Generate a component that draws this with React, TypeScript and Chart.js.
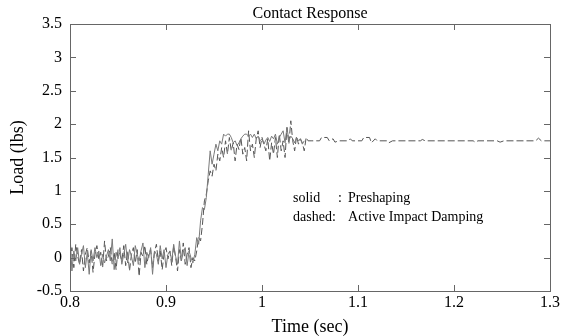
import React, { useEffect, useRef } from "react";
import { Chart, registerables } from "chart.js";

Chart.register(...registerables);

// ---- data ----
const sampleStart = 0.8;
const sampleStep = 0.002;

const solidValues = [
  0.35, -0.2, 0.1, -0.05, 0.15, -0.1, 0.05, 0.18, -0.15, 0.08,
  -0.25, 0.12, -0.05, 0.15, 0.0, 0.1, -0.12, 0.05, -0.08, 0.02,
  0.12, -0.05, 0.28, -0.18, 0.08, -0.02, 0.15, -0.1, 0.05, 0.2,
  -0.08, 0.12, 0.02, -0.12, 0.18, 0.05, -0.05, 0.1, 0.22, -0.15,
  0.08, 0.0, 0.15, -0.25, 0.1, 0.05, -0.1, 0.18, -0.02, 0.12,
  -0.15, 0.05, 0.1, -0.05, 0.2, 0.02, -0.1, 0.25, -0.05, 0.08,
  0.15, -0.12, 0.1, 0.0, -0.08,
  0.05, 0.3, 0.2, 0.55, 0.75, 0.72, 0.9, 1.25, 1.6, 1.4,
  1.55, 1.7, 1.6, 1.75, 1.7, 1.85, 1.82, 1.85, 1.85, 1.8,
  1.72, 1.75, 1.68, 1.72, 1.78, 1.82, 1.85, 1.85, 1.82, 1.85,
  1.8, 1.85, 1.78, 1.82, 1.75, 1.78, 1.7, 1.76, 1.8, 1.74,
  1.82, 1.78, 1.85, 1.7, 1.8, 1.85, 1.9, 1.72, 1.95, 1.75,
  1.82, 1.78, 1.72, 1.8, 1.75, 1.78, 1.7, 1.75,
];

const dashedValues = [
  -0.05, 0.15, -0.15, 0.2, 0.02, -0.1, 0.12, -0.2, 0.05, 0.15,
  -0.08, 0.1, -0.22, 0.05, 0.18, -0.02, 0.08, -0.15, 0.25, -0.05,
  0.02, 0.15, -0.1, 0.08, -0.18, 0.12, 0.05, -0.05, 0.18, -0.12,
  0.1, -0.2, 0.05, 0.15, -0.08, 0.12, -0.28, 0.08, 0.02, 0.18,
  -0.1, 0.05, 0.12, -0.15, 0.08, 0.2, -0.05, 0.1, -0.18, 0.05,
  0.15, -0.02, 0.1, -0.12, 0.18, 0.0, -0.2, 0.12, -0.05, 0.22,
  -0.1, 0.05, 0.15, -0.15, 0.0,
  -0.05, 0.1, 0.3, 0.25, 0.5, 0.85, 0.95, 1.15, 1.3, 1.22,
  1.4, 1.3, 1.55, 1.45, 1.65, 1.5, 1.75, 1.55, 1.8, 1.6,
  1.72, 1.45, 1.7, 1.62, 1.8, 1.55, 1.65, 1.45, 1.9, 1.6,
  1.7, 1.5, 1.78, 1.9, 1.65, 1.8, 1.7, 1.6, 1.78, 1.45,
  1.72, 1.55, 1.8, 1.5, 1.85, 1.6, 1.75, 1.5, 1.95, 1.7,
  2.05, 1.75, 1.6, 1.82, 1.7, 1.78, 1.72, 1.6, 1.8, 1.75,
  1.75,
];

const dashedTailTimes = [
  1.052, 1.06, 1.062, 1.068, 1.07, 1.074, 1.076, 1.08, 1.09, 1.092,
  1.094, 1.104, 1.106, 1.112, 1.114, 1.118, 1.12, 1.13, 1.132, 1.136,
  1.165, 1.167, 1.17, 1.22, 1.222, 1.225, 1.245, 1.248, 1.252, 1.285,
  1.288, 1.291, 1.3,
];
const dashedTailValues = [
  1.75, 1.75, 1.8, 1.8, 1.75, 1.78, 1.73, 1.75, 1.75, 1.78,
  1.75, 1.75, 1.8, 1.8, 1.72, 1.78, 1.75, 1.75, 1.72, 1.75,
  1.75, 1.77, 1.75, 1.75, 1.73, 1.75, 1.75, 1.73, 1.75, 1.75,
  1.79, 1.75, 1.75,
];

const xTickValues = [0.8, 0.9, 1.0, 1.1, 1.2, 1.3];
const xTickLabels = ["0.8", "0.9", "1", "1.1", "1.2", "1.3"];
const yTickValues = [-0.5, 0, 0.5, 1, 1.5, 2, 2.5, 3, 3.5];
const yTickLabels = ["-0.5", "0", "0.5", "1", "1.5", "2", "2.5", "3", "3.5"];

const titleText = "Contact Response";
const xTitle = "Time (sec)";
const yTitle = "Load (lbs)";
const legendLines = [
  { key: "solid", sep: ":", label: "Preshaping" },
  { key: "dashed", sep: ":", label: "Active Impact Damping" },
];

const FONT = "'Liberation Serif', 'Times New Roman', serif";

function buildSeries(values: number[], extraT: number[] = [], extraV: number[] = []) {
  const pts = values.map((v, i) => ({
    x: Math.round((sampleStart + i * sampleStep) * 1000) / 1000,
    y: v,
  }));
  extraT.forEach((t, i) => pts.push({ x: t, y: extraV[i] }));
  return pts;
}

const decorPlugin = {
  id: "decor",
  afterDatasetsDraw(chart: any) {
    const { ctx, chartArea, scales } = chart;
    const { left, right, top, bottom } = chartArea;
    ctx.save();
    // box
    ctx.strokeStyle = "#666";
    ctx.lineWidth = 1;
    ctx.strokeRect(Math.round(left) + 0.5, Math.round(top) + 0.5, Math.round(right - left), Math.round(bottom - top));
    // inward ticks on all sides
    const tl = 6;
    ctx.beginPath();
    xTickValues.forEach((v) => {
      const px = Math.round(scales.x.getPixelForValue(v)) + 0.5;
      ctx.moveTo(px, bottom);
      ctx.lineTo(px, bottom - tl);
      ctx.moveTo(px, top);
      ctx.lineTo(px, top + tl);
    });
    yTickValues.forEach((v) => {
      const py = Math.round(scales.y.getPixelForValue(v)) + 0.5;
      ctx.moveTo(left, py);
      ctx.lineTo(left + tl, py);
      ctx.moveTo(right, py);
      ctx.lineTo(right - tl, py);
    });
    ctx.stroke();

    // texts
    ctx.fillStyle = "#000";
    ctx.textAlign = "center";
    ctx.textBaseline = "middle";
    ctx.font = `16px ${FONT}`;
    ctx.fillText(titleText, (left + right) / 2, 14);
    ctx.font = `18px ${FONT}`;
    ctx.fillText(xTitle, (left + right) / 2, 327);
    ctx.save();
    ctx.translate(18, (top + bottom) / 2);
    ctx.rotate(-Math.PI / 2);
    ctx.fillText(yTitle, 0, 0);
    ctx.restore();

    // legend text
    ctx.font = `14px ${FONT}`;
    ctx.textAlign = "left";
    const xKey = scales.x.getPixelForValue(1.0323);
    const xSep = scales.x.getPixelForValue(1.0792);
    const xLab = scales.x.getPixelForValue(1.0896);
    const ys = [scales.y.getPixelForValue(0.893), scales.y.getPixelForValue(0.609)];
    legendLines.forEach((l, i) => {
      ctx.fillText(l.key, xKey, ys[i]);
      const sepX = i === 0 ? xSep : xKey + ctx.measureText(l.key).width;
      ctx.fillText(l.sep, sepX, ys[i]);
      ctx.fillText(l.label, xLab, ys[i]);
    });
    ctx.restore();
  },
};

export default function App() {
  const ref = useRef<HTMLCanvasElement>(null);
  useEffect(() => {
    document.body.style.margin = "0";
    const chart = new Chart(ref.current!, {
      type: "line",
      data: {
        datasets: [
          {
            label: "Preshaping",
            data: buildSeries(solidValues),
            borderColor: "#7a7a7a",
            borderWidth: 1,
            pointRadius: 0,
            tension: 0,
            fill: false,
          },
          {
            label: "Active Impact Damping",
            data: buildSeries(dashedValues, dashedTailTimes, dashedTailValues),
            borderColor: "#555",
            borderWidth: 1,
            borderDash: [7, 3],
            pointRadius: 0,
            tension: 0,
            fill: false,
          },
        ],
      },
      options: {
        animation: false,
        responsive: false,
        events: [],
        layout: { padding: { left: 0, right: 18, top: 24, bottom: 0 } },
        plugins: { legend: { display: false }, title: { display: false }, tooltip: { enabled: false } },
        scales: {
          x: {
            type: "linear",
            min: 0.8,
            max: 1.3,
            afterBuildTicks: (s: any) => {
              s.ticks = xTickValues.map((v) => ({ value: v }));
            },
            afterFit: (s: any) => {
              s.height = 45;
            },
            grid: { display: false, drawTicks: false },
            border: { display: false },
            ticks: {
              color: "#000",
              font: { family: FONT, size: 16 },
              padding: 2,
              maxRotation: 0,
              callback: (v: any) => {
                const i = xTickValues.findIndex((t) => Math.abs(t - v) < 1e-6);
                return i >= 0 ? xTickLabels[i] : "";
              },
            },
          },
          y: {
            type: "linear",
            min: -0.5,
            max: 3.5,
            afterBuildTicks: (s: any) => {
              s.ticks = yTickValues.map((v) => ({ value: v }));
            },
            afterFit: (s: any) => {
              s.width = 70;
            },
            grid: { display: false, drawTicks: false },
            border: { display: false },
            ticks: {
              color: "#000",
              font: { family: FONT, size: 16 },
              padding: 8,
              callback: (v: any) => {
                const i = yTickValues.findIndex((t) => Math.abs(t - v) < 1e-6);
                return i >= 0 ? yTickLabels[i] : "";
              },
            },
          },
        },
      },
      plugins: [decorPlugin],
    } as any);
    return () => chart.destroy();
  }, []);
  return <canvas ref={ref} width={568} height={336} style={{ display: "block" }} />;
}
